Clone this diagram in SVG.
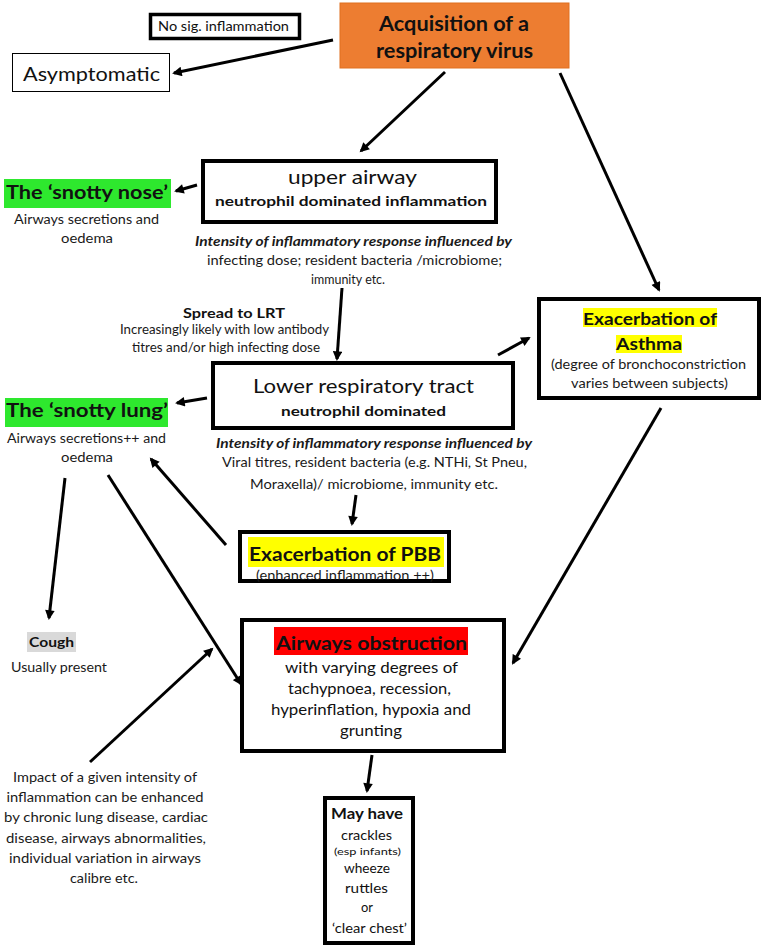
<svg xmlns="http://www.w3.org/2000/svg" width="766" height="947" viewBox="0 0 766 947">
<style>
text{font-family:Lato,"Open Sans","Liberation Sans",sans-serif;text-anchor:middle;fill:#111}
.s{font-size:13.5px;fill:#1a1a1a}
.b{font-weight:bold}
.bi{font-weight:bold;font-style:italic;font-size:13.5px;fill:#1a1a1a}
.box{fill:#fff;stroke:#000;stroke-width:4}
.conn line{stroke:#000;stroke-width:3;marker-end:url(#ah)}
</style>
<defs>
<marker id="ah" viewBox="0 0 10 10" refX="8" refY="5" markerWidth="3.6" markerHeight="3.2" orient="auto" markerUnits="strokeWidth">
<path d="M0,0 L10,5 L0,10 z" fill="#000"/>
</marker>
</defs>
<rect width="766" height="947" fill="#fff"/>

<g id="acquisition">
<rect x="340" y="3" width="229" height="65" fill="#ED7D31" stroke="#E07020" stroke-width="1"/>
<text x="454" y="31" class="b" font-size="21" textLength="150" lengthAdjust="spacingAndGlyphs">Acquisition of a</text>
<text x="454.5" y="58" class="b" font-size="21" textLength="157" lengthAdjust="spacingAndGlyphs">respiratory virus</text>
</g>

<g id="nosig">
<rect x="150.5" y="14.5" width="149" height="24" fill="#fff" stroke="#000" stroke-width="3.5"/>
<text x="223.5" y="31" font-size="12.5" textLength="131" lengthAdjust="spacingAndGlyphs">No sig. inflammation</text>
</g>

<g id="asymptomatic">
<rect x="12.5" y="53.5" width="157" height="38" fill="#fff" stroke="#000" stroke-width="1"/>
<text x="91.5" y="81" font-size="19" textLength="137" lengthAdjust="spacingAndGlyphs">Asymptomatic</text>
</g>

<g id="upper-airway">
<rect class="box" x="203" y="161" width="293" height="61"/>
<text x="352.5" y="184" font-size="20" textLength="129" lengthAdjust="spacingAndGlyphs">upper airway</text>
<text x="351" y="206" class="b" font-size="13.5" textLength="272" lengthAdjust="spacingAndGlyphs">neutrophil dominated inflammation</text>
</g>

<g id="snotty-nose">
<rect x="4" y="179" width="167" height="29" fill="#2EE82E"/>
<text x="87" y="199" class="b" font-size="19.5" textLength="162" lengthAdjust="spacingAndGlyphs">The ‘snotty nose’</text>
<text x="86.5" y="224" class="s" textLength="145" lengthAdjust="spacingAndGlyphs">Airways secretions and</text>
<text x="87" y="243" class="s" textLength="52" lengthAdjust="spacingAndGlyphs">oedema</text>
</g>

<g id="upper-influence">
<text x="353.5" y="246" class="bi" textLength="317" lengthAdjust="spacingAndGlyphs">Intensity of inflammatory response influenced by</text>
<text x="354.5" y="265" class="s" textLength="295" lengthAdjust="spacingAndGlyphs">infecting dose; resident bacteria /microbiome;</text>
<text x="348" y="284" class="s" textLength="74" lengthAdjust="spacingAndGlyphs">immunity etc.</text>
</g>

<g id="spread">
<text x="234" y="318" class="b" font-size="13.5" textLength="102" lengthAdjust="spacingAndGlyphs">Spread to LRT</text>
<text x="224.5" y="334" class="s" font-size="12.5" textLength="209" lengthAdjust="spacingAndGlyphs">Increasingly likely with low antibody</text>
<text x="226" y="352" class="s" font-size="12.5" textLength="188" lengthAdjust="spacingAndGlyphs">titres and/or high infecting dose</text>
</g>

<g id="lrt">
<rect class="box" x="213" y="363" width="300" height="65"/>
<text x="363.5" y="393" font-size="20" textLength="221" lengthAdjust="spacingAndGlyphs">Lower respiratory tract</text>
<text x="363.5" y="416" class="b" font-size="13.5" textLength="165" lengthAdjust="spacingAndGlyphs">neutrophil dominated</text>
</g>

<g id="snotty-lung">
<rect x="5" y="398" width="163" height="29" fill="#2EE82E"/>
<text x="87" y="417" class="b" font-size="19.5" textLength="162" lengthAdjust="spacingAndGlyphs">The ‘snotty lung’</text>
<text x="86.5" y="443" class="s" textLength="159" lengthAdjust="spacingAndGlyphs">Airways secretions++ and</text>
<text x="87" y="462" class="s" textLength="52" lengthAdjust="spacingAndGlyphs">oedema</text>
</g>

<g id="asthma">
<rect class="box" x="539" y="299" width="220" height="99"/>
<rect x="583" y="308" width="134" height="19" fill="#FFFF00"/>
<rect x="616" y="335" width="66" height="18" fill="#FFFF00"/>
<text x="650" y="325" class="b" font-size="17" textLength="134" lengthAdjust="spacingAndGlyphs">Exacerbation of</text>
<text x="649" y="350" class="b" font-size="17" textLength="66" lengthAdjust="spacingAndGlyphs">Asthma</text>
<text x="648.5" y="369" class="s" textLength="195" lengthAdjust="spacingAndGlyphs">(degree of bronchoconstriction</text>
<text x="649.5" y="388" class="s" textLength="157" lengthAdjust="spacingAndGlyphs">varies between subjects)</text>
</g>

<g id="lrt-influence">
<text x="374" y="448" class="bi" textLength="316" lengthAdjust="spacingAndGlyphs">Intensity of inflammatory response influenced by</text>
<text x="374.5" y="467" class="s" textLength="305" lengthAdjust="spacingAndGlyphs">Viral titres, resident bacteria (e.g. NTHi, St Pneu,</text>
<text x="374" y="489" class="s" textLength="248" lengthAdjust="spacingAndGlyphs">Moraxella)/ microbiome, immunity etc.</text>
</g>

<g id="pbb">
<rect class="box" x="240" y="532" width="209" height="49"/>
<rect x="248" y="537" width="196" height="30" fill="#FFFF00"/>
<text x="345" y="561" class="b" font-size="19" textLength="192" lengthAdjust="spacingAndGlyphs">Exacerbation of PBB</text>
<text x="345" y="580" class="s" textLength="178" lengthAdjust="spacingAndGlyphs">(enhanced inflammation ++)</text>
</g>

<g id="cough">
<rect x="27" y="632" width="49" height="20" fill="#D9D9D9"/>
<text x="51.5" y="647" class="b" font-size="13.5" textLength="45" lengthAdjust="spacingAndGlyphs">Cough</text>
<text x="59" y="672" class="s" textLength="96" lengthAdjust="spacingAndGlyphs">Usually present</text>
</g>

<g id="obstruction">
<rect class="box" x="242" y="620" width="262" height="131"/>
<rect x="274" y="627" width="194" height="28" fill="#FF0000"/>
<text x="371.5" y="650" class="b" font-size="19" textLength="191" lengthAdjust="spacingAndGlyphs">Airways obstruction</text>
<text x="371.5" y="673" font-size="15" textLength="173" lengthAdjust="spacingAndGlyphs">with varying degrees of</text>
<text x="369.5" y="694" font-size="15" textLength="163" lengthAdjust="spacingAndGlyphs">tachypnoea, recession,</text>
<text x="371" y="715" font-size="15" textLength="200" lengthAdjust="spacingAndGlyphs">hyperinflation, hypoxia and</text>
<text x="371" y="736" font-size="15" textLength="62" lengthAdjust="spacingAndGlyphs">grunting</text>
</g>

<g id="may-have">
<rect class="box" x="325" y="798" width="88" height="145"/>
<text x="367" y="819" class="b" font-size="15" textLength="72" lengthAdjust="spacingAndGlyphs">May have</text>
<text x="366.5" y="840" font-size="14" textLength="51" lengthAdjust="spacingAndGlyphs">crackles</text>
<text x="367.5" y="855" font-size="9" textLength="67" lengthAdjust="spacingAndGlyphs">(esp infants)</text>
<text x="367" y="873" font-size="14" textLength="46" lengthAdjust="spacingAndGlyphs">wheeze</text>
<text x="366.5" y="893" font-size="14" textLength="43" lengthAdjust="spacingAndGlyphs">ruttles</text>
<text x="367" y="912" font-size="14" textLength="12" lengthAdjust="spacingAndGlyphs">or</text>
<text x="369.5" y="933" font-size="14" textLength="75" lengthAdjust="spacingAndGlyphs">‘clear chest’</text>
</g>

<g id="impact">
<text x="105" y="782" class="s" textLength="184" lengthAdjust="spacingAndGlyphs">Impact of a given intensity of</text>
<text x="105" y="802" class="s" textLength="197" lengthAdjust="spacingAndGlyphs">inflammation can be enhanced</text>
<text x="106" y="822" class="s" textLength="204" lengthAdjust="spacingAndGlyphs">by chronic lung disease, cardiac</text>
<text x="106" y="843" class="s" textLength="200" lengthAdjust="spacingAndGlyphs">disease, airways abnormalities,</text>
<text x="105" y="863" class="s" textLength="192" lengthAdjust="spacingAndGlyphs">individual variation in airways</text>
<text x="104" y="883" class="s" textLength="68" lengthAdjust="spacingAndGlyphs">calibre etc.</text>
</g>

<g id="connectors" class="conn">
<line x1="333" y1="40" x2="174" y2="73"/>
<line x1="445" y1="72" x2="361" y2="151"/>
<line x1="560" y1="73" x2="659" y2="290"/>
<line x1="197" y1="185" x2="176" y2="191"/>
<line x1="342" y1="288" x2="337" y2="359"/>
<line x1="207" y1="398" x2="177" y2="403"/>
<line x1="498" y1="355" x2="529" y2="338"/>
<line x1="356" y1="495" x2="352" y2="524"/>
<line x1="226" y1="545" x2="151" y2="459"/>
<line x1="108" y1="475" x2="241" y2="684"/>
<line x1="65" y1="478" x2="49" y2="618"/>
<line x1="90" y1="762" x2="212" y2="649"/>
<line x1="661" y1="408" x2="513" y2="663"/>
<line x1="372" y1="755" x2="367" y2="791"/>
</g>
</svg>
